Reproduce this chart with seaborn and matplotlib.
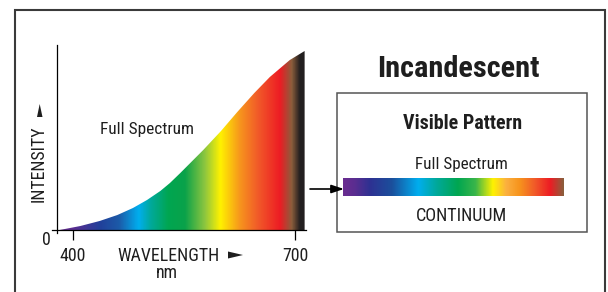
import numpy as np
import matplotlib
matplotlib.use("Agg")
import matplotlib.pyplot as plt
import seaborn as sns
from matplotlib import font_manager
from matplotlib.colors import LinearSegmentedColormap
from matplotlib.patches import Rectangle, Polygon, FancyArrowPatch

# values
wavelength = [382, 396, 410, 436, 460, 481, 500, 518, 531, 545, 576, 600, 622, 645, 666, 693, 713]
intensity = [0, 2, 4, 9, 15, 22, 30, 39, 47, 57, 80, 99, 118, 137, 153, 170, 179]
x_ticks = [400, 700]
x_ticklabels = ["400", "700"]

# colour stops of the spectrum under the curve (wavelength, colour)
curve_stops = [(382, "#662d91"), (399, "#5a2d91"), (436, "#21409a"), (461, "#1c5aa8"),
               (488, "#00aeef"), (504, "#00a99d"), (528, "#00a651"), (551, "#0aa24a"),
               (578, "#8dc63f"), (599, "#fff200"), (626, "#f7941d"), (650, "#f15a29"),
               (680, "#ed1c24"), (696, "#8b5e3c"), (707, "#231f20"), (713, "#231f20")]
# colour stops of the bar (fraction along the bar, colour)
bar_stops = [(0.0, "#6a2c91"), (0.05, "#5b2d90"), (0.12, "#2e3192"), (0.22, "#1b4f9c"),
             (0.34, "#00aeef"), (0.42, "#00a99d"), (0.52, "#00a651"), (0.60, "#39b54a"),
             (0.68, "#fff200"), (0.74, "#fbb040"), (0.80, "#f7941d"), (0.87, "#f15a29"),
             (0.94, "#ed1c24"), (1.0, "#8b5e3c")]

sns.set_style("white")

# pick a narrow sans with a bold face if one is installed
fonts = font_manager.fontManager.ttflist
family = "Liberation Sans"
for cand in ["Liberation Sans Narrow", "Arial Narrow", "Roboto Condensed", "Archivo Narrow",
             "PT Sans Narrow", "Pragati Narrow", "Fira Sans Condensed",
             "IBM Plex Sans Condensed", "Open Sans Condensed"]:
    ws = [f.weight for f in fonts if f.name == cand]
    if any(w in (400, "normal", "regular") for w in ws) and any(w in (700, "bold") for w in ws):
        family = cand
        break
plt.rcParams["font.family"] = [family, "DejaVu Sans"]
TXT = "#1e1e1e"

W, H = 608, 292
fig = plt.figure(figsize=(W / 100, H / 100), dpi=100)
renderer = fig.canvas.get_renderer()


def fx(x):
    return x / W


def fy(y):
    return 1 - y / H


def ftext(x, y, s, width=None, rot=False, **kw):
    # place a text; if a width (px) is given, size it to that width
    kw.setdefault("ha", "center")
    kw.setdefault("va", "baseline")
    kw.setdefault("color", TXT)
    kw.setdefault("fontsize", 13)
    t = fig.text(fx(x), fy(y), s, **kw)
    if width:
        bb = t.get_window_extent(renderer)
        cur = bb.height if rot else bb.width
        t.set_fontsize(kw["fontsize"] * width / cur)
    return t


# outer frame (bottom edge runs off the picture)
fig.add_artist(Rectangle((fx(14.5), fy(400)), fx(604.5) - fx(14.5), fy(9.5) - fy(400),
                         transform=fig.transFigure, fill=False, lw=1.5, ec="#3a3a3a"))

# left plot: intensity against wavelength
px_per_nm = 0.74
ax = fig.add_axes([fx(52), fy(233), (306 - 52) / W, (233 - 45) / H])
sns.lineplot(x=wavelength, y=intensity, ax=ax, lw=0)
fill = ax.fill_between(wavelength, intensity, 0, facecolor="none", lw=0)

lo, hi = curve_stops[0][0], curve_stops[-1][0]
cmap = LinearSegmentedColormap.from_list(
    "curve", [((w - lo) / (hi - lo), c) for w, c in curve_stops])
grad = np.linspace(0, 1, 600)[None, :]
im = ax.imshow(grad, extent=[lo, hi, 0, max(intensity) + 5], aspect="auto", cmap=cmap,
               interpolation="bilinear", zorder=1)
im.set_clip_path(fill.get_paths()[0], ax.transData)

ax.set_xlim(400 + (52 - 73) / px_per_nm, 400 + (306 - 73) / px_per_nm)
ax.set_ylim(-3, 185)
sns.despine(ax=ax)
ax.spines["left"].set_position(("data", 379))
ax.spines["bottom"].set_position(("data", 0))
for s in ["left", "bottom"]:
    ax.spines[s].set_linewidth(0.9)
    ax.spines[s].set_color("black")
ax.patch.set_alpha(0)

# axis texts
wl_text = ftext(169, 261, "WAVELENGTH", width=102)
reg = wl_text.get_fontsize()
ftext(46.5, 245, "0", fontsize=reg)
ftext(167, 278, "nm", fontsize=reg)
ftext(146.5, 134, "Full Spectrum", width=93)
ftext(38.5, 164, "INTENSITY", width=76, rot=True, rotation=90, va="center")
fig.add_artist(Polygon([(fx(228), fy(251.5)), (fx(228), fy(258.5)), (fx(243), fy(255))],
                       closed=True, transform=fig.transFigure, color=TXT, lw=0))
fig.add_artist(Polygon([(fx(37), fy(117)), (fx(42.5), fy(117)), (fx(39.7), fy(104))],
                       closed=True, transform=fig.transFigure, color=TXT, lw=0))

ax.set_yticks([])
ax.set_xticks(x_ticks)
ax.set_xticklabels(x_ticklabels)
ax.tick_params(axis="x", direction="out", length=7.2, width=0.9, pad=5, labelsize=reg,
               labelcolor=TXT, color="black", bottom=True)

# right panel
ftext(458.5, 77, "Incandescent", width=163, fontsize=21.5, fontweight="bold")
fig.add_artist(Rectangle((fx(337), fy(232)), fx(587) - fx(337), fy(93) - fy(232),
                         transform=fig.transFigure, fill=False, lw=1.1, ec="#555555"))
ftext(462.5, 129, "Visible Pattern", width=119, fontsize=14.8, fontweight="bold")
ftext(461, 169, "Full Spectrum", width=92)
ftext(462, 221, "CONTINUUM", width=91)

bax = fig.add_axes([fx(343), fy(196), (563 - 343) / W, (196 - 178) / H])
bcmap = LinearSegmentedColormap.from_list("bar", bar_stops)
bax.imshow(grad, aspect="auto", cmap=bcmap, interpolation="bilinear")
bax.axis("off")

fig.add_artist(FancyArrowPatch((fx(310), fy(189)), (fx(344), fy(189)),
                               transform=fig.transFigure,
                               arrowstyle="-|>,head_length=0.75,head_width=0.25",
                               mutation_scale=10, lw=1.2, color="black",
                               shrinkA=0, shrinkB=0))

fig.savefig("out.png", dpi=100)
